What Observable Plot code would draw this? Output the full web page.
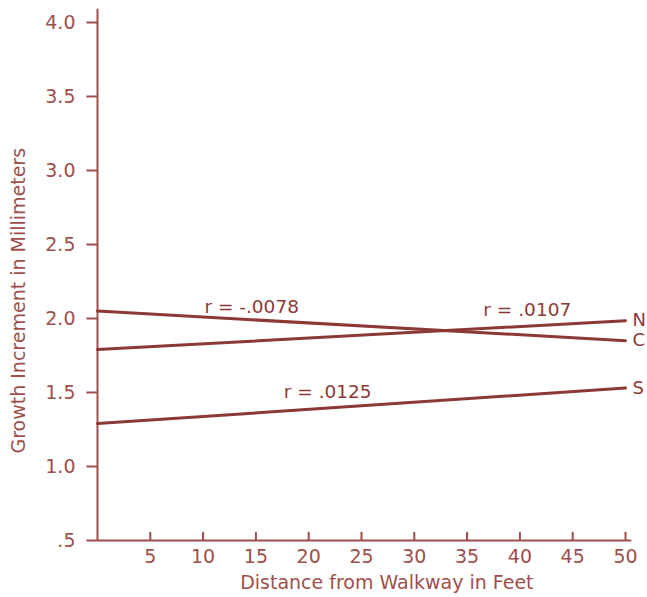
<!DOCTYPE html>
<html>
<head>
<meta charset="utf-8">
<script src="https://cdn.jsdelivr.net/npm/d3@7"></script>
<script src="https://cdn.jsdelivr.net/npm/@observablehq/plot@0.6"></script>
<style>
  html, body { margin: 0; padding: 0; background: #ffffff; }
  svg { display: block; }
</style>
</head>
<body>
<div id="chart"></div>
<script>
// Series: regression lines for three plot groups (N, C, S)
const series = ["N", "C", "S"];
const distance = [0, 50];               // feet
const growthN = [1.79, 1.985];           // mm
const growthC = [2.05, 1.85];
const growthS = [1.29, 1.53];
const rLabels = ["r = .0107", "r = -.0078", "r = .0125"];
const rLabelX = [40.7, 14.6, 21.8];
const rLabelY = [2.06, 2.08, 1.505];

const xTicks = [5, 10, 15, 20, 25, 30, 35, 40, 45, 50];
const xTickLabels = ["5", "10", "15", "20", "25", "30", "35", "40", "45", "50"];
const yTicks = [0.5, 1.0, 1.5, 2.0, 2.5, 3.0, 3.5, 4.0];
const yTickLabels = [".5", "1.0", "1.5", "2.0", "2.5", "3.0", "3.5", "4.0"];

const values = {N: growthN, C: growthC, S: growthS};
const lines = series.flatMap(s => distance.map((d, i) => ({series: s, x: d, y: values[s][i]})));
const ends = series.map(s => ({series: s, x: distance[1], y: values[s][1]}));
const rAnn = rLabels.map((t, i) => ({t, x: rLabelX[i], y: rLabelY[i]}));

const axisColor = "#9e4f4c";
const lineColor = "#8c3936";
const font = "DejaVu Sans, sans-serif";

const chart = Plot.plot({
  width: 647,
  height: 597,
  marginLeft: 97,
  marginRight: 22,
  marginTop: 22,
  marginBottom: 57,
  style: {background: "#ffffff", fontFamily: font, color: axisColor, overflow: "visible"},
  x: {domain: [0, 50], axis: null},
  y: {domain: [0.5, 4.0], axis: null},
  marks: [
    // axis lines
    Plot.ruleX([0], {y1: 0.5, y2: 4.09, stroke: axisColor, strokeWidth: 2, clip: false}),
    Plot.ruleY([0.5], {x1: 0, x2: 50.6, stroke: axisColor, strokeWidth: 2, clip: false}),
    // y ticks (outward)
    Plot.ruleY(yTicks, {y: d => d, x1: -1.0, x2: 0, stroke: axisColor, strokeWidth: 2, clip: false}),
    // x ticks (inward)
    Plot.ruleX(xTicks, {y1: 0.5, y2: 0.555, stroke: axisColor, strokeWidth: 2}),
    // y tick labels
    Plot.text(yTicks, {x: 0, y: d => d, text: (d, i) => yTickLabels[i], dx: -22, textAnchor: "end",
      fill: axisColor, fontSize: 19, clip: false}),
    // x tick labels
    Plot.text(xTicks, {x: d => d, y: 0.5, text: (d, i) => xTickLabels[i], dy: 16,
      fill: axisColor, fontSize: 19, clip: false}),
    // axis titles
    Plot.text(["Distance from Walkway in Feet"], {x: 27.4, y: 0.5, dy: 42, text: d => d,
      fill: axisColor, fontSize: 19, letterSpacing: 0.3, clip: false}),
    Plot.text(["Growth Increment in Millimeters"], {x: 0, y: 2.12, dx: -79, rotate: -90, text: d => d,
      fill: axisColor, fontSize: 19, letterSpacing: 0.6, clip: false}),
    // regression lines
    Plot.line(lines, {x: "x", y: "y", z: "series", stroke: lineColor, strokeWidth: 3}),
    // series labels at right
    Plot.text(ends, {x: "x", y: "y", text: "series", dx: 7, textAnchor: "start",
      fill: lineColor, fontSize: 18, clip: false}),
    // correlation annotations
    Plot.text(rAnn, {x: "x", y: "y", text: "t", fill: lineColor, fontSize: 18.5})
  ]
});
document.getElementById("chart").append(chart);
</script>
</body>
</html>
